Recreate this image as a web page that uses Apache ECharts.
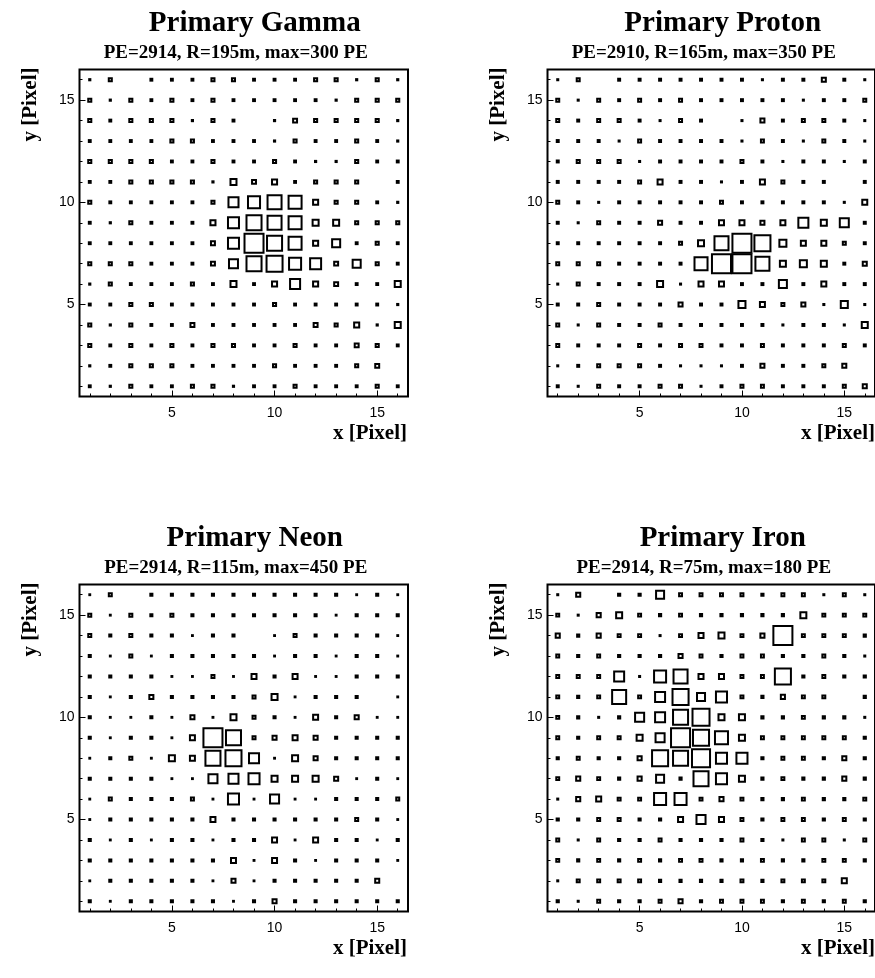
<!DOCTYPE html>
<html><head><meta charset="utf-8">
<script src="https://cdn.jsdelivr.net/npm/echarts@6/dist/echarts.min.js"></script>
<style>html,body{margin:0;padding:0;background:#fff}#c{width:875px;height:978px}</style>
</head><body><div id="c"></div>
<script>
// Cell contents (PE), rows listed from y=16 (top) down to y=1; columns x=1..16. 0 = no box.
const gamma = [
 [2,9,0,4,4,4,9,9,4,4,4,9,9,2,9,2],
 [9,2,9,4,9,4,9,4,4,4,4,4,2,9,9,9],
 [9,4,9,9,9,2,9,4,0,2,14,9,9,9,9,2],
 [4,4,4,4,9,9,4,4,4,2,9,4,4,9,4,2],
 [9,9,9,9,4,4,9,4,4,9,4,2,2,9,4,4],
 [4,4,9,9,9,9,2,30,14,22,4,9,9,9,0,4],
 [9,4,4,4,4,4,9,79,112,150,130,22,9,9,4,2],
 [4,2,9,4,4,4,22,94,172,150,130,30,30,9,9,9],
 [4,4,4,4,4,4,14,94,271,172,130,22,52,4,9,4],
 [9,9,9,4,4,4,14,64,172,194,112,94,14,52,9,4],
 [2,9,4,4,4,9,4,30,4,22,79,22,14,4,4,30],
 [4,4,9,9,4,4,4,4,4,9,4,4,4,4,4,2],
 [9,2,9,4,4,14,4,4,4,4,4,14,9,22,2,30],
 [9,4,9,4,9,4,9,9,4,4,9,4,4,14,9,4],
 [2,4,9,9,9,4,4,4,4,9,4,4,4,9,14,0],
 [4,2,9,4,4,9,9,2,4,4,9,4,4,4,9,4]
];
const proton = [
 [2,10,0,5,5,5,5,5,5,5,2,5,5,17,5,2],
 [10,2,10,5,10,5,10,5,5,5,5,5,2,5,5,10],
 [10,5,10,10,5,2,10,5,0,2,17,5,10,10,5,2],
 [5,5,5,2,10,5,5,5,5,2,10,5,2,10,5,2],
 [5,10,10,10,2,5,5,5,5,10,5,2,5,5,2,5],
 [5,5,5,5,10,25,5,5,2,5,25,10,5,5,0,5],
 [10,5,2,5,5,5,5,5,10,5,5,5,5,5,2,25],
 [5,2,10,5,5,17,5,5,25,25,17,25,92,35,75,5],
 [5,5,5,5,5,5,10,35,175,317,227,47,25,25,10,5],
 [10,10,10,5,5,5,5,152,317,317,175,35,47,35,5,17],
 [2,10,5,5,5,35,2,25,25,5,5,60,5,25,5,5],
 [5,5,10,5,5,5,17,5,5,47,25,10,17,2,47,2],
 [10,2,10,5,5,10,5,5,5,5,5,2,5,5,2,35],
 [10,5,5,5,10,5,10,10,5,5,10,5,5,5,10,5],
 [2,5,10,10,10,5,2,2,2,5,17,5,5,10,17,0],
 [5,2,10,5,5,10,10,2,5,10,10,5,5,5,10,17]
];
const neon = [
 [2,13,0,7,7,7,7,7,7,7,7,7,7,2,7,2],
 [13,2,13,7,13,7,7,7,7,7,7,7,2,7,7,7],
 [13,7,13,7,7,2,7,7,0,2,13,7,7,7,7,2],
 [7,2,13,2,7,7,7,7,7,2,7,7,2,7,7,2],
 [7,7,7,7,2,2,13,2,32,7,32,2,2,7,7,7],
 [7,2,7,22,7,7,7,7,13,45,2,7,7,7,0,2],
 [7,2,2,7,2,22,2,45,13,7,2,32,7,22,2,2],
 [7,2,7,7,2,32,407,257,13,22,32,22,7,7,7,7],
 [2,7,13,2,45,32,257,292,118,2,45,22,7,7,7,7],
 [7,7,7,7,2,2,97,118,142,45,45,45,22,2,7,2],
 [2,13,7,7,7,13,2,142,2,97,2,2,7,7,7,13],
 [2,7,7,7,7,7,32,7,7,7,7,7,7,13,7,2],
 [7,2,7,2,7,7,2,7,7,32,2,32,7,7,2,7],
 [7,7,7,7,7,7,7,32,2,32,7,2,7,7,7,2],
 [2,7,7,7,7,7,2,22,2,7,7,7,7,7,22,0],
 [7,2,7,7,7,7,7,2,7,22,7,7,7,7,7,7]
];
const iron = [
 [1,9,0,3,3,31,5,5,5,5,3,5,5,1,5,1],
 [5,1,9,18,5,3,5,3,3,3,3,3,18,5,5,5],
 [9,3,9,5,5,1,5,13,18,5,9,163,5,5,5,3],
 [5,3,5,3,3,3,9,5,3,5,5,3,3,5,3,1],
 [5,5,5,47,1,67,90,13,13,5,5,117,3,5,3,3],
 [5,3,5,90,5,47,117,31,57,5,3,9,5,5,0,3],
 [5,3,1,3,39,47,103,131,18,18,3,3,5,3,3,1],
 [5,3,5,5,18,39,163,117,78,18,5,5,5,5,5,3],
 [3,5,3,3,9,117,103,147,57,57,3,5,5,3,9,3],
 [5,9,5,3,9,31,3,103,57,18,3,5,3,3,9,3],
 [1,9,13,5,5,67,67,5,9,5,3,3,5,3,3,5],
 [3,3,5,5,3,3,13,39,13,5,3,5,5,3,5,3],
 [5,1,5,3,3,5,3,3,3,5,3,1,5,5,1,5],
 [5,3,5,3,5,3,5,5,3,3,5,3,3,5,5,3],
 [1,5,5,5,5,3,3,3,3,5,3,5,5,5,13,0],
 [3,1,5,3,3,5,9,3,5,5,5,3,5,3,5,3]
];
const titles = ['Primary Gamma', 'Primary Proton', 'Primary Neon', 'Primary Iron'];
const subtitles = ['PE=2914, R=195m, max=300 PE', 'PE=2910, R=165m, max=350 PE',
                   'PE=2914, R=115m, max=450 PE', 'PE=2914, R=75m, max=180 PE'];
const maxPE = [300, 350, 450, 180];
const pixelTicks = [1,2,3,4,5,6,7,8,9,10,11,12,13,14,15,16];
const majorTicks = [5, 10, 15];
const xName = 'x [Pixel]';
const yName = 'y [Pixel]';

const panels = [gamma, proton, neon, iron];
const grids = [
  {left: 79.5, top: 69.5, width: 328.5, height: 327},
  {left: 547.5, top: 69.5, width: 328.5, height: 327},
  {left: 79.5, top: 584.5, width: 328.5, height: 327},
  {left: 547.5, top: 584.5, width: 328.5, height: 327}
];
const serif = '"Liberation Serif","Times New Roman",serif';
const sans = '"Liberation Sans",Arial,sans-serif';
const boxLine = 2;

const option = {
  animation: false,
  backgroundColor: '#fff',
  grid: [], xAxis: [], yAxis: [], series: [], graphic: []
};

panels.forEach((rows, p) => {
  const g = grids[p];
  option.grid.push(Object.assign({show: true, borderColor: '#000', borderWidth: 2,
    backgroundColor: 'rgba(0,0,0,0)', containLabel: false}, g));
  const cell = g.width / 16;
  const mk = (extra) => Object.assign({
    type: 'value', gridIndex: p, min: 0.5, max: 16.5,
    axisLine: {show: false}, splitLine: {show: false}
  }, extra);
  option.xAxis.push(mk({position: 'bottom',
    axisTick: {show: true, inside: true, length: 3, customValues: pixelTicks, lineStyle: {color: '#000', width: 1}},
    axisLabel: {show: true, customValues: majorTicks, color: '#000', fontFamily: sans, fontSize: 14, margin: 10}}));
  option.xAxis.push(mk({position: 'bottom',
    axisTick: {show: true, inside: true, length: 6, customValues: majorTicks, lineStyle: {color: '#000', width: 1}},
    axisLabel: {show: false}}));
  option.yAxis.push(mk({position: 'left',
    axisTick: {show: true, inside: true, length: 3, customValues: pixelTicks, lineStyle: {color: '#000', width: 1}},
    axisLabel: {show: true, customValues: majorTicks, color: '#000', fontFamily: sans, fontSize: 14, margin: 5}}));
  option.yAxis.push(mk({position: 'left',
    axisTick: {show: true, inside: true, length: 6, customValues: majorTicks, lineStyle: {color: '#000', width: 1}},
    axisLabel: {show: false}}));

  const data = [];
  rows.forEach((row, r) => row.forEach((v, c) => {
    if (v > 0) data.push([c + 1, 16 - r, v]);
  }));
  const m = maxPE[p];
  option.series.push({
    type: 'scatter', xAxisIndex: 2 * p, yAxisIndex: 2 * p, data: data,
    symbol: 'rect',
    symbolSize: (d) => Math.max(0.5, Math.sqrt(d[2] / m) * cell - 0.5),
    itemStyle: {color: 'rgba(0,0,0,0)', borderColor: '#000', borderWidth: boxLine, opacity: 1},
    emphasis: {disabled: true}, silent: true
  });

  const cx = g.left + g.width / 2;
  option.graphic.push({type: 'text', x: cx + 11, y: g.top - 46,
    style: {text: titles[p], font: 'bold 29px ' + serif, fill: '#000', align: 'center', verticalAlign: 'middle'}});
  option.graphic.push({type: 'text', x: cx - 8, y: g.top - 16,
    style: {text: subtitles[p], font: 'bold 19px ' + serif, fill: '#000', align: 'center', verticalAlign: 'middle'}});
  option.graphic.push({type: 'text', x: g.left + g.width - 1, y: g.top + g.height + 37,
    style: {text: xName, font: 'bold 21px ' + serif, fill: '#000', align: 'right', verticalAlign: 'middle'}});
  option.graphic.push({type: 'text', x: g.left - 49, y: g.top - 2, rotation: Math.PI / 2,
    style: {text: yName, font: 'bold 21px ' + serif, fill: '#000', align: 'right', verticalAlign: 'middle'}});
});

const chart = echarts.init(document.getElementById('c'), null, {renderer: 'canvas'});
chart.setOption(option);
</script></body></html>
